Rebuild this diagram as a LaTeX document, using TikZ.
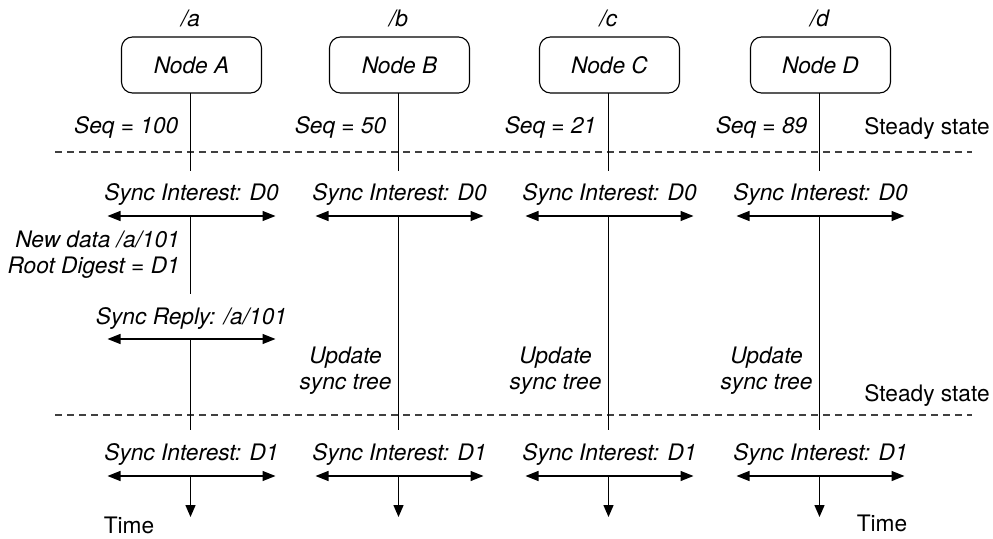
\documentclass[tikz,border=0pt]{standalone}
\usepackage{fontspec}
\setmainfont{TeX Gyre Heros}
\usetikzlibrary{arrows.meta}
\begin{document}
\begin{tikzpicture}[x=1pt,y=-1pt,
  every node/.style={font=\fontsize{22.7}{26}\selectfont, inner sep=0pt},
  lbl/.style={font=\fontsize{22.7}{26}\selectfont\itshape},
  nodebox/.style={draw, rounded corners=11pt, minimum width=140pt, minimum height=56pt, line width=1.1pt},
  life/.style={line width=1.4pt},
  msg/.style={line width=1.4pt, {Triangle[length=13pt,width=10pt]}-{Triangle[length=13pt,width=10pt]}},
  timeline/.style={line width=1.4pt, -{Triangle[length=12pt,width=10pt]}},
  sep/.style={line width=1.1pt, black!75, dash pattern=on 7pt off 5pt}]
\useasboundingbox (0,0) rectangle (993,538);

% phase separators
\coordinate (sep1L) at (55,152);  \coordinate (sep1R) at (972,152);
\coordinate (sep2L) at (55,415);  \coordinate (sep2R) at (972,415);
\draw[sep] (sep1L) -- (sep1R);
\draw[sep] (sep2L) -- (sep2R);
\node (st1) at (927,128) {Steady state};
\node (st2) at (927,395) {Steady state};

% one column per node
\foreach \n/\N/\x/\s in {a/A/190.5/100, b/B/398.5/50, c/C/608.5/21, d/D/819.5/89}{
  \node[lbl] (name\n) at (\x,18) {/\n};
  \node[nodebox,lbl] (box\n) at (\x+1,65) {Node \N};
  \node[lbl, anchor=east] (seq\n) at (\x-12,127) {Seq = \s};
  \coordinate (boxfoot\n) at (\x,93);
  \coordinate (top\n) at (\x,171);
  \draw[life] (boxfoot\n) -- (top\n);
  % sync interest D0
  \node[lbl] (si0\n) at (\x+1,194) {Sync Interest: D0};
  \coordinate (m0L\n) at (\x-83,216);
  \coordinate (m0R\n) at (\x+85,216);
  \coordinate (m0C\n) at (\x,216);
  \draw[msg] (m0L\n) -- (m0R\n);
  % sync interest D1
  \node[lbl] (si1\n) at (\x+1,454) {Sync Interest: D1};
  \coordinate (m1L\n) at (\x-83,476);
  \coordinate (m1R\n) at (\x+85,476);
  \coordinate (m1C\n) at (\x,476);
  \coordinate (end\n) at (\x,517);
  \draw[msg] (m1L\n) -- (m1R\n);
  \draw[timeline] (m1C\n) -- (end\n);
}

% node A publishes new data
\coordinate (aMid) at (190.5,294);
\draw[life] (m0Ca) -- (aMid);
\node[lbl, align=right, anchor=east] (newdata) at (180,255) {New data /a/101\\Root Digest = D1};
\node[lbl] (reply) at (191.5,318) {Sync Reply: /a/101};
\coordinate (mrL) at (107.5,339);
\coordinate (mrR) at (275.5,339);
\coordinate (mrC) at (190.5,339);
\coordinate (aLow) at (190.5,430);
\draw[msg] (mrL) -- (mrR);
\draw[life] (mrC) -- (aLow);

% other nodes update their trees
\foreach \n/\x in {b/398.5, c/608.5, d/819.5}{
  \coordinate (low\n) at (\x,430);
  \draw[life] (m0C\n) -- (low\n);
  \node[lbl, align=center] (upd\n) at (\x-53,371) {Update\\sync tree};
}

\node (time1) at (129,525) {Time};
\node (time2) at (882,523) {Time};
\end{tikzpicture}
\end{document}
